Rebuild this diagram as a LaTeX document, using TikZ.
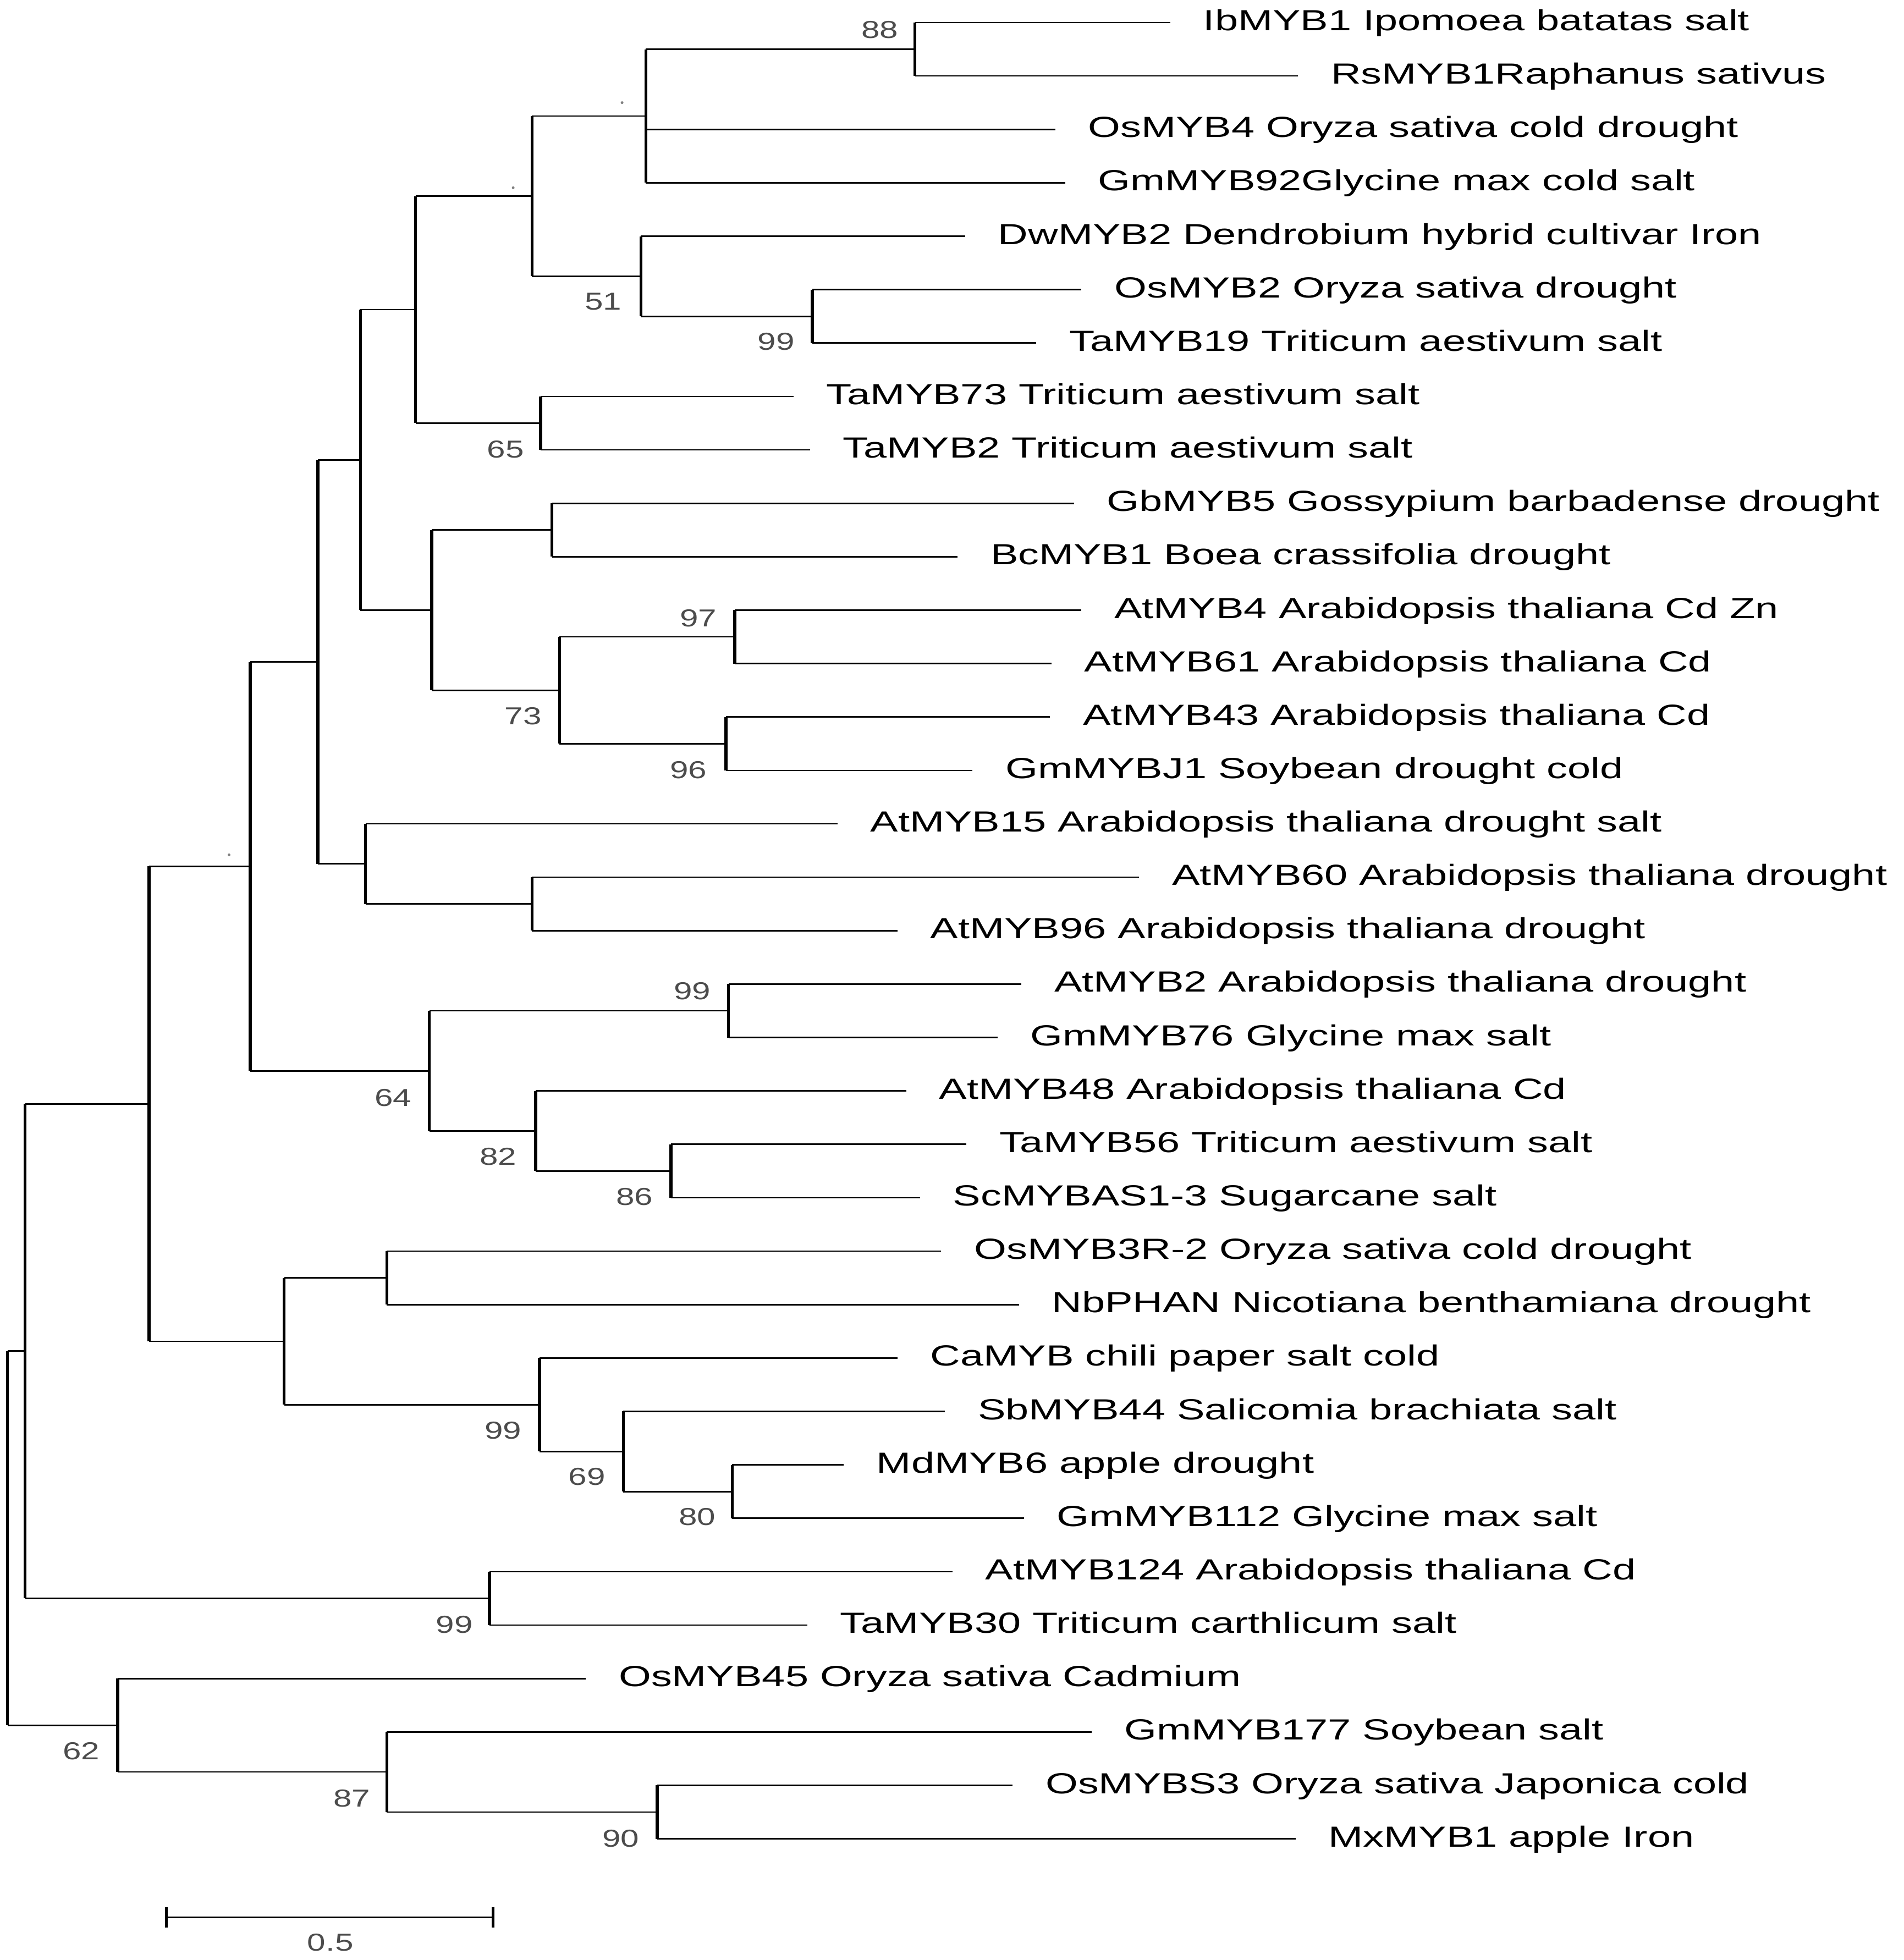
\documentclass[tikz,border=0pt]{standalone}
\usepackage{fontspec}
\newfontfamily\labfont[FakeStretch=1.43]{Liberation Sans}
\newfontfamily\numfont[FakeStretch=1.35]{Liberation Sans}
\tikzset{
    hbar/.style={line width=0.65pt},
    vbar/.style={line width=1.3pt},
    leaf/.style={anchor=base west, inner sep=0pt, xshift=14.2pt, yshift=-3.5pt,
        font=\labfont\fontsize{12.7}{14}\selectfont},
    boot/.style={inner sep=0pt, text=black!70, font=\numfont\fontsize{10.7}{12}\selectfont},
}
\begin{document}
\begin{tikzpicture}[x=0.546pt, y=-0.546pt]
    \useasboundingbox (0,0) rectangle (1521,1566);
    % tips and names of the sequences
    \foreach \i/\x/\txt in {
        1/935/IbMYB1 Ipomoea batatas salt,
        2/1037/RsMYB1Raphanus sativus,
        3/843/OsMYB4 Oryza sativa cold drought,
        4/851/GmMYB92Glycine max cold salt,
        5/771/DwMYB2 Dendrobium hybrid cultivar Iron,
        6/864/OsMYB2 Oryza sativa drought,
        7/828/TaMYB19 Triticum aestivum salt,
        8/634/TaMYB73 Triticum aestivum salt,
        9/647/TaMYB2 Triticum aestivum salt,
        10/858/GbMYB5 Gossypium barbadense drought,
        11/765/BcMYB1 Boea crassifolia drought,
        12/864/AtMYB4 Arabidopsis thaliana Cd Zn,
        13/840/AtMYB61 Arabidopsis thaliana Cd,
        14/839/AtMYB43 Arabidopsis thaliana Cd,
        15/777/GmMYBJ1 Soybean drought cold,
        16/669/AtMYB15 Arabidopsis thaliana drought salt,
        17/910/AtMYB60 Arabidopsis thaliana drought,
        18/717/AtMYB96 Arabidopsis thaliana drought,
        19/816/AtMYB2 Arabidopsis thaliana drought,
        20/797/GmMYB76 Glycine max salt,
        21/724/AtMYB48 Arabidopsis thaliana Cd,
        22/772/TaMYB56 Triticum aestivum salt,
        23/735/ScMYBAS1-3 Sugarcane salt,
        24/752/OsMYB3R-2 Oryza sativa cold drought,
        25/814/NbPHAN Nicotiana benthamiana drought,
        26/717/CaMYB chili paper salt cold,
        27/755/SbMYB44 Salicomia brachiata salt,
        28/674/MdMYB6 apple drought,
        29/818/GmMYB112 Glycine max salt,
        30/761/AtMYB124 Arabidopsis thaliana Cd,
        31/645/TaMYB30 Triticum carthlicum salt,
        32/468/OsMYB45 Oryza sativa Cadmium,
        33/872/GmMYB177 Soybean salt,
        34/809/OsMYBS3 Oryza sativa Japonica cold,
        35/1035/MxMYB1 apple Iron}
    {
        \coordinate (t\i) at (\x,{18+42.68*(\i-1)});
        \node[leaf] (L\i) at (t\i) {\txt};
    }
    % inner nodes
    \coordinate (nA) at (731,39.34);
    \coordinate (nB) at (516,92.69);
    \coordinate (nE) at (649,252.74);
    \coordinate (nD) at (512,220.73);
    \coordinate (nC) at (425,156.71);
    \coordinate (nF) at (432,338.1);
    \coordinate (nG) at (332,247.41);
    \coordinate (nH) at (441,423.46);
    \coordinate (nI) at (587,508.82);
    \coordinate (nJ) at (580,594.18);
    \coordinate (nK) at (447,551.5);
    \coordinate (nL) at (345,487.48);
    \coordinate (nM) at (288,367.45);
    \coordinate (nN) at (425,722.22);
    \coordinate (nO) at (292,690.21);
    \coordinate (nP) at (254,528.83);
    \coordinate (nR) at (582,807.58);
    \coordinate (nS) at (536,935.62);
    \coordinate (nT) at (428,903.61);
    \coordinate (nU) at (343,855.6);
    \coordinate (nQ) at (200,692.21);
    \coordinate (nV) at (309,1020.98);
    \coordinate (nW) at (585,1191.7);
    \coordinate (nX) at (498,1159.69);
    \coordinate (nY) at (431,1122.35);
    \coordinate (nZ) at (227,1071.66);
    \coordinate (nAA) at (119,881.94);
    \coordinate (nAB) at (391,1277.06);
    \coordinate (nAC) at (20,1079.5);
    \coordinate (nAD) at (525,1447.78);
    \coordinate (nAE) at (309,1415.77);
    \coordinate (nAF) at (94,1378.43);
    \coordinate (root) at (6,1228.97);
    % branches: node/first child/last child
    \foreach \n/\a/\b in {nA/t1/t2, nB/nA/t4, nE/t6/t7, nD/t5/nE, nC/nB/nD,
        nF/t8/t9, nG/nC/nF, nH/t10/t11, nI/t12/t13, nJ/t14/t15, nK/nI/nJ,
        nL/nH/nK, nM/nG/nL, nN/t17/t18, nO/t16/nN, nP/nM/nO, nR/t19/t20,
        nS/t22/t23, nT/t21/nS, nU/nR/nT, nQ/nP/nU, nV/t24/t25, nW/t28/t29,
        nX/t27/nW, nY/t26/nX, nZ/nV/nY, nAA/nQ/nZ, nAB/t30/t31, nAC/nAA/nAB,
        nAD/t34/t35, nAE/t33/nAD, nAF/t32/nAE, root/nAC/nAF}
    {
        \draw[vbar] (\n |- \a) -- (\n |- \b);
        \draw[hbar] (\n |- \a) -- (\a);
        \draw[hbar] (\n |- \b) -- (\b);
    }
    \draw[hbar] (nB |- t3) -- (t3);
    % bootstrap values
    \foreach \n/\x/\y/\v in {A/703/24/88, D/482/241/51, E/620/273/99, F/404/359/65,
        I/558/494/97, K/418/572/73, J/550/615/96, R/553/792/99, U/314/877/64,
        T/398/924/82, S/507/956/86, Y/402/1143/99, X/469/1180/69, W/557/1212/80,
        AB/363/1298/99, AF/65/1399/62, AE/281/1437/87, AD/496/1469/90}
        \node[boot] (b\n) at (\x,\y) {\v};
    \fill[black!50] (497,82) circle (0.6pt);
    \fill[black!50] (410,150) circle (0.6pt);
    \fill[black!50] (183,683) circle (0.6pt);
    % scale bar
    \coordinate (s0) at (133,1532);
    \coordinate (s1) at (394,1532);
    \draw[hbar] (s0) -- (s1);
    \draw[vbar] ([yshift=4.4pt]s0) -- ([yshift=-4.4pt]s0);
    \draw[vbar] ([yshift=4.4pt]s1) -- ([yshift=-4.4pt]s1);
    \node[boot] (scl) at (264,1552) {0.5};
\end{tikzpicture}
\end{document}
